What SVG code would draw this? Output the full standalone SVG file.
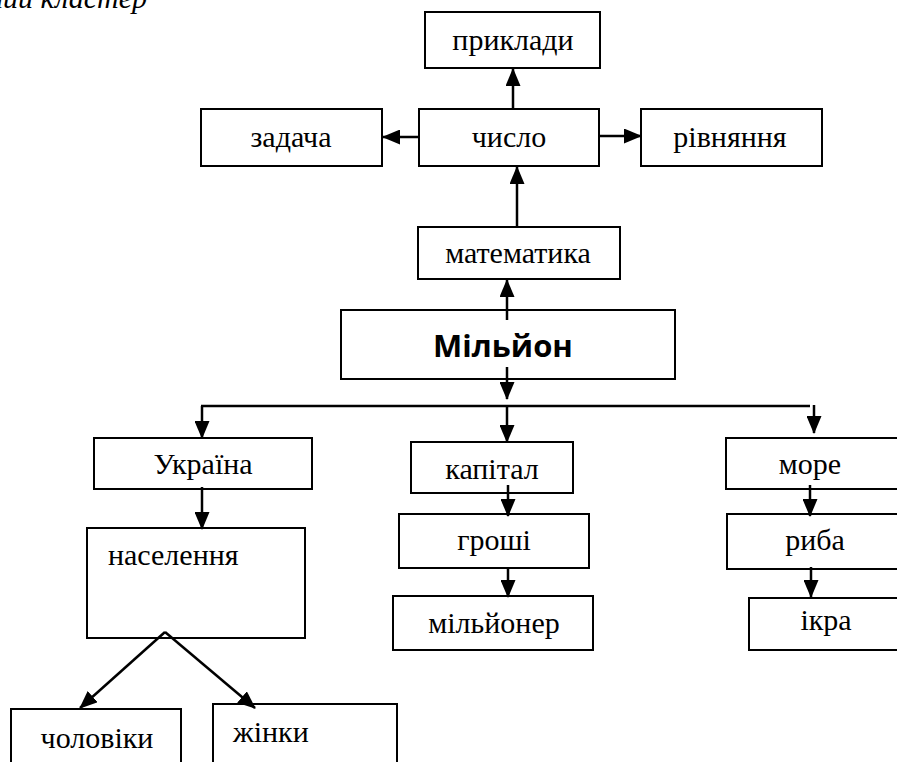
<svg xmlns="http://www.w3.org/2000/svg" width="897" height="762" viewBox="0 0 897 762">
<style>
  .box{fill:#fff;stroke:#000;stroke-width:2}
  .t{font-family:"Liberation Serif","Times New Roman",serif;font-size:30px;fill:#000}
  .c{text-anchor:middle}
  .b{font-family:"Open Sans","Liberation Sans",sans-serif;font-size:31px;font-weight:700;text-anchor:middle;fill:#000}
  .ln{stroke:#000;stroke-width:2.5;fill:none}
  .ar{marker-end:url(#ah)}
</style>
<defs>
  <marker id="ah" viewBox="0 0 18 15" refX="17" refY="7.5" markerWidth="18" markerHeight="15" markerUnits="userSpaceOnUse" orient="auto">
    <path d="M0,0 L18,7.5 L0,15 z" fill="#000"/>
  </marker>
</defs>
<rect width="897" height="762" fill="#fff"/>
<text class="t" x="147" y="8" text-anchor="end" font-style="italic">ний кластер</text>

<g id="n-pryklady"><rect class="box" x="425" y="12" width="175" height="56"/><text class="t c" x="513" y="50">приклади</text></g>
<g id="n-zadacha"><rect class="box" x="201" y="109" width="181" height="57"/><text class="t c" x="291" y="147">задача</text></g>
<g id="n-chyslo"><rect class="box" x="419" y="109" width="180" height="57"/><text class="t c" x="509" y="147">число</text></g>
<g id="n-rivniannia"><rect class="box" x="641" y="109" width="181" height="57"/><text class="t c" x="730" y="147">рівняння</text></g>
<g id="n-matematyka"><rect class="box" x="418" y="227" width="202" height="52"/><text class="t c" x="518" y="263">математика</text></g>
<g id="n-milion"><rect class="box" x="341" y="310" width="334" height="69"/><text class="b" x="503" y="357">Мільйон</text></g>
<g id="n-ukraina"><rect class="box" x="94" y="438" width="218" height="51"/><text class="t c" x="203" y="474">Україна</text></g>
<g id="n-naselennia"><rect class="box" x="87" y="528" width="218" height="110"/><text class="t" x="108" y="565">населення</text></g>
<g id="n-cholovik"><rect class="box" x="11" y="709" width="170" height="70"/><text class="t c" x="97" y="748">чоловіки</text></g>
<g id="n-zhinky"><rect class="box" x="213" y="704" width="184" height="75"/><text class="t" x="233" y="742">жінки</text></g>
<g id="n-kapital"><rect class="box" x="411" y="442" width="162" height="51"/><text class="t c" x="492" y="479">капітал</text></g>
<g id="n-groshi"><rect class="box" x="399" y="514" width="190" height="54"/><text class="t c" x="494" y="550">гроші</text></g>
<g id="n-milioner"><rect class="box" x="393" y="596" width="200" height="54"/><text class="t c" x="494" y="633">мільйонер</text></g>
<g id="n-more"><rect class="box" x="726" y="438" width="190" height="51"/><text class="t c" x="810" y="474">море</text></g>
<g id="n-ryba"><rect class="box" x="727" y="514" width="190" height="55"/><text class="t c" x="815" y="550">риба</text></g>
<g id="n-ikra"><rect class="box" x="749" y="598" width="170" height="52"/><text class="t c" x="826" y="630">ікра</text></g>

<g id="connectors">
  <line class="ln ar" x1="513" y1="109" x2="513" y2="69"/>
  <line class="ln ar" x1="419" y1="137" x2="383" y2="137"/>
  <line class="ln ar" x1="599" y1="136" x2="641" y2="136"/>
  <line class="ln ar" x1="517" y1="227" x2="517" y2="167"/>
  <line class="ln ar" x1="507" y1="320" x2="507" y2="280"/>
  <line class="ln ar" x1="507" y1="367" x2="507" y2="399"/>
  <line class="ln" x1="201" y1="406" x2="810" y2="406"/>
  <line class="ln ar" x1="202" y1="406" x2="202" y2="438"/>
  <line class="ln ar" x1="507" y1="406" x2="507" y2="442"/>
  <line class="ln ar" x1="814" y1="405" x2="814" y2="433"/>
  <line class="ln ar" x1="202" y1="487" x2="202" y2="529"/>
  <line class="ln ar" x1="508" y1="485" x2="508" y2="516"/>
  <line class="ln ar" x1="508" y1="567" x2="508" y2="597"/>
  <line class="ln ar" x1="810" y1="485" x2="810" y2="516"/>
  <line class="ln ar" x1="811" y1="567" x2="811" y2="597"/>
  <line class="ln ar" x1="165" y1="632" x2="80" y2="708"/>
  <line class="ln ar" x1="165" y1="632" x2="255" y2="708"/>
</g>
</svg>
